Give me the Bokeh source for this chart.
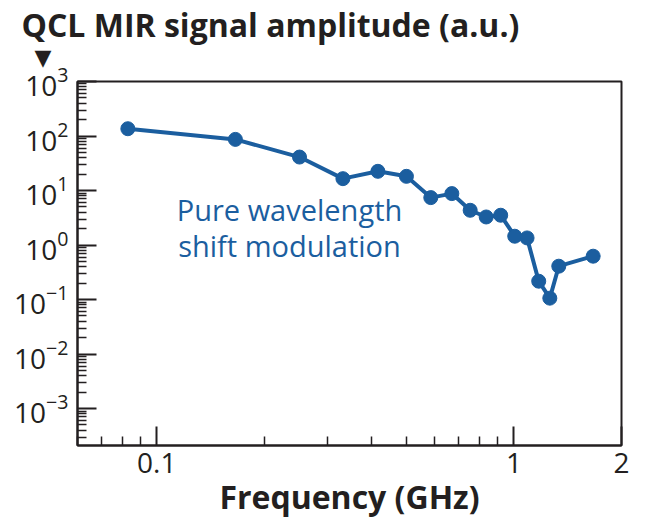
from bokeh.plotting import figure
from bokeh.models import FixedTicker, CustomJSTickFormatter, Label, LogTickFormatter, Title
from bokeh.embed import file_html
from bokeh.resources import INLINE

# ---- data ----
freq_ghz = [0.083, 0.166, 0.251, 0.332, 0.416, 0.500, 0.585, 0.670, 0.754,
            0.836, 0.918, 1.005, 1.088, 1.173, 1.260, 1.335, 1.666]
amplitude = [136, 86.7, 41.1, 16.5, 22.5, 18.2, 7.41, 8.78, 4.34,
             3.27, 3.52, 1.45, 1.35, 0.217, 0.106, 0.409, 0.624]

x_ticks = [0.1, 1, 2]
x_tick_labels = ["0.1", "1", "2"]
x_minor = [0.06, 0.07, 0.08, 0.09, 0.2, 0.3, 0.4, 0.5, 0.6, 0.7, 0.8, 0.9]
y_exponents = [-3, -2, -1, 0, 1, 2, 3]

title_text = "QCL MIR signal amplitude (a.u.)"
x_label = "Frequency (GHz)"
note_lines = ["Pure wavelength", "shift modulation"]

INK = "#231f20"
BLUE = "#1b5e9f"

y_ticks = [10.0 ** e for e in y_exponents]
y_minor = [k * 10.0 ** e for e in range(-4, 3) for k in range(2, 10)]

p = figure(width=648, height=520, x_axis_type="log", y_axis_type="log",
           x_range=(0.06, 2), y_range=(2.1e-4, 1e3), title=None,
           output_backend="svg", toolbar_location=None,
           min_border_left=77, min_border_right=27,
           min_border_top=81, min_border_bottom=74)

p.grid.visible = False
p.outline_line_color = INK
p.outline_line_width = 2
p.background_fill_color = "white"
p.border_fill_color = "white"

# x axis
xa = p.xaxis[0]
xa.ticker = FixedTicker(ticks=x_ticks, minor_ticks=x_minor)
xa.formatter = CustomJSTickFormatter(args=dict(xt=x_ticks, xl=x_tick_labels), code="""
const i = xt.findIndex(t => Math.abs(t - tick) < 1e-9);
return i >= 0 ? xl[i] : '';
""")
xa.axis_label = x_label
xa.axis_label_text_font = "Open Sans"
xa.axis_label_text_font_size = "32px"
xa.axis_label_text_font_style = "bold"
xa.axis_label_text_color = INK
xa.axis_label_standoff = -1

# y axis
ya = p.yaxis[0]
ya.ticker = FixedTicker(ticks=y_ticks, minor_ticks=y_minor)
ya.formatter = LogTickFormatter()

for ax, fs in ((xa, "28px"), (ya, "28px")):
    ax.axis_line_color = INK
    ax.axis_line_width = 2
    ax.major_tick_line_color = INK
    ax.major_tick_line_width = 2
    ax.minor_tick_line_color = INK
    ax.minor_tick_line_width = 1.5
    ax.major_tick_in = 19
    ax.major_tick_out = 0
    ax.minor_tick_in = 9
    ax.minor_tick_out = 0
    ax.major_label_text_font = "Open Sans"
    ax.major_label_text_font_size = fs
    ax.major_label_text_color = INK
xa.major_label_standoff = 7
ya.major_label_standoff = 9

# data
p.line(freq_ghz, amplitude, line_color=BLUE, line_width=4)
p.scatter(freq_ghz, amplitude, size=14, fill_color=BLUE, line_color=BLUE)

# titles in the top panel: the arrow marker first (closest to the frame), then the title
p.add_layout(Title(text="\u25bc", text_font="DejaVu Sans", text_font_size="22px",
                   text_color=INK, align="left", vertical_align="top",
                   offset=-43, standoff=20), "above")
p.add_layout(Title(text=title_text, text_font="Open Sans", text_font_size="32px",
                   text_font_style="bold", text_color=INK, align="left",
                   offset=-56, standoff=-22), "above")

# annotation
for txt, ty in zip(note_lines, [236, 200]):
    p.add_layout(Label(x=212, y=ty, x_units="screen", y_units="screen", text=txt,
                       text_font="Open Sans", text_font_size="29px", text_color=BLUE,
                       text_baseline="alphabetic", text_align="center"))

open("out.html", "w").write(file_html(p, INLINE))
